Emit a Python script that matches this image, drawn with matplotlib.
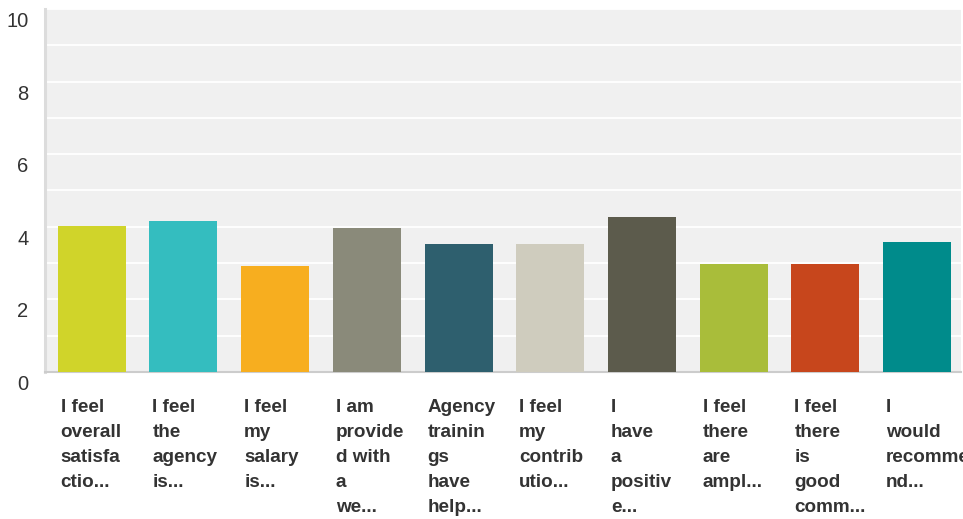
import matplotlib
matplotlib.use("Agg")
import matplotlib.pyplot as plt
import matplotlib.transforms as mtransforms

categories = [
    "I feel\noverall\nsatisfa\nctio...",
    "I feel\nthe\nagency\nis...",
    "I feel\nmy\nsalary\nis...",
    "I am\nprovide\nd with\na\nwe...",
    "Agency\ntrainin\ngs\nhave\nhelp...",
    "I feel\nmy\ncontrib\nutio...",
    "I\nhave\na\npositiv\ne...",
    "I feel\nthere\nare\nampl...",
    "I feel\nthere\nis\ngood\ncomm...",
    "I\nwould\nrecomme\nnd...",
]
values = [4.02, 4.16, 2.92, 3.97, 3.53, 3.53, 4.27, 2.97, 2.97, 3.58]
colors = ["#d0d42a", "#34bdbf", "#f7ae1f", "#8a8a7a", "#2e5f6e",
          "#cfccbe", "#5c5b4c", "#a9bd3a", "#c7461c", "#008b8b"]
y_ticks = [0, 2, 4, 6, 8, 10]
y_minor = [1, 3, 5, 7, 9]

plt.rcParams['font.family'] = ['Liberation Sans', 'DejaVu Sans']

W, H, DPI = 963, 519, 100
fig = plt.figure(figsize=(W / DPI, H / DPI), dpi=DPI)
left, right, top, bottom = 45, 961, 9, 372
ax = fig.add_axes([left / W, (H - bottom) / H, (right - left) / W, (bottom - top) / H])
ax.set_facecolor("#f0f0f0")

bar_w = 0.742
x = list(range(len(values)))
ax.bar(x, values, width=bar_w, color=colors, zorder=3)

ax.set_xlim(-0.51, 9.48)
ax.set_ylim(0, 10)
ax.set_yticks(y_ticks)
ax.set_yticks(y_minor, minor=True)
ax.set_yticklabels([str(t) for t in y_ticks], fontsize=14.5, color="#333333")
ax.tick_params(axis="y", which="both", length=0, pad=12)
ax.grid(True, axis="y", which="both", color="white", linewidth=1.3, zorder=1)
ax.set_axisbelow(True)
yoff = mtransforms.ScaledTranslation(0, -3 / DPI, fig.dpi_scale_trans)
for lbl in ax.get_yticklabels():
    lbl.set_va("top")
    lbl.set_transform(lbl.get_transform() + yoff)

ax.set_xticks([])

for side in ["top", "right"]:
    ax.spines[side].set_visible(False)
ax.spines["left"].set_color("#dcdcdc")
ax.spines["left"].set_linewidth(2.2)
ax.spines["bottom"].set_color("#cccccc")
ax.spines["bottom"].set_linewidth(1.5)

trans = mtransforms.blended_transform_factory(ax.transData, ax.transAxes)
off = mtransforms.ScaledTranslation(3 / DPI, -27.5 / DPI, fig.dpi_scale_trans)
for i, lab in enumerate(categories):
    ax.text(i - bar_w / 2, 0, lab, transform=trans + off, ha="left", va="top",
            fontsize=13.6, fontweight="bold", color="#333333", linespacing=1.6,
            clip_on=False)

fig.savefig("out.png", dpi=DPI)
